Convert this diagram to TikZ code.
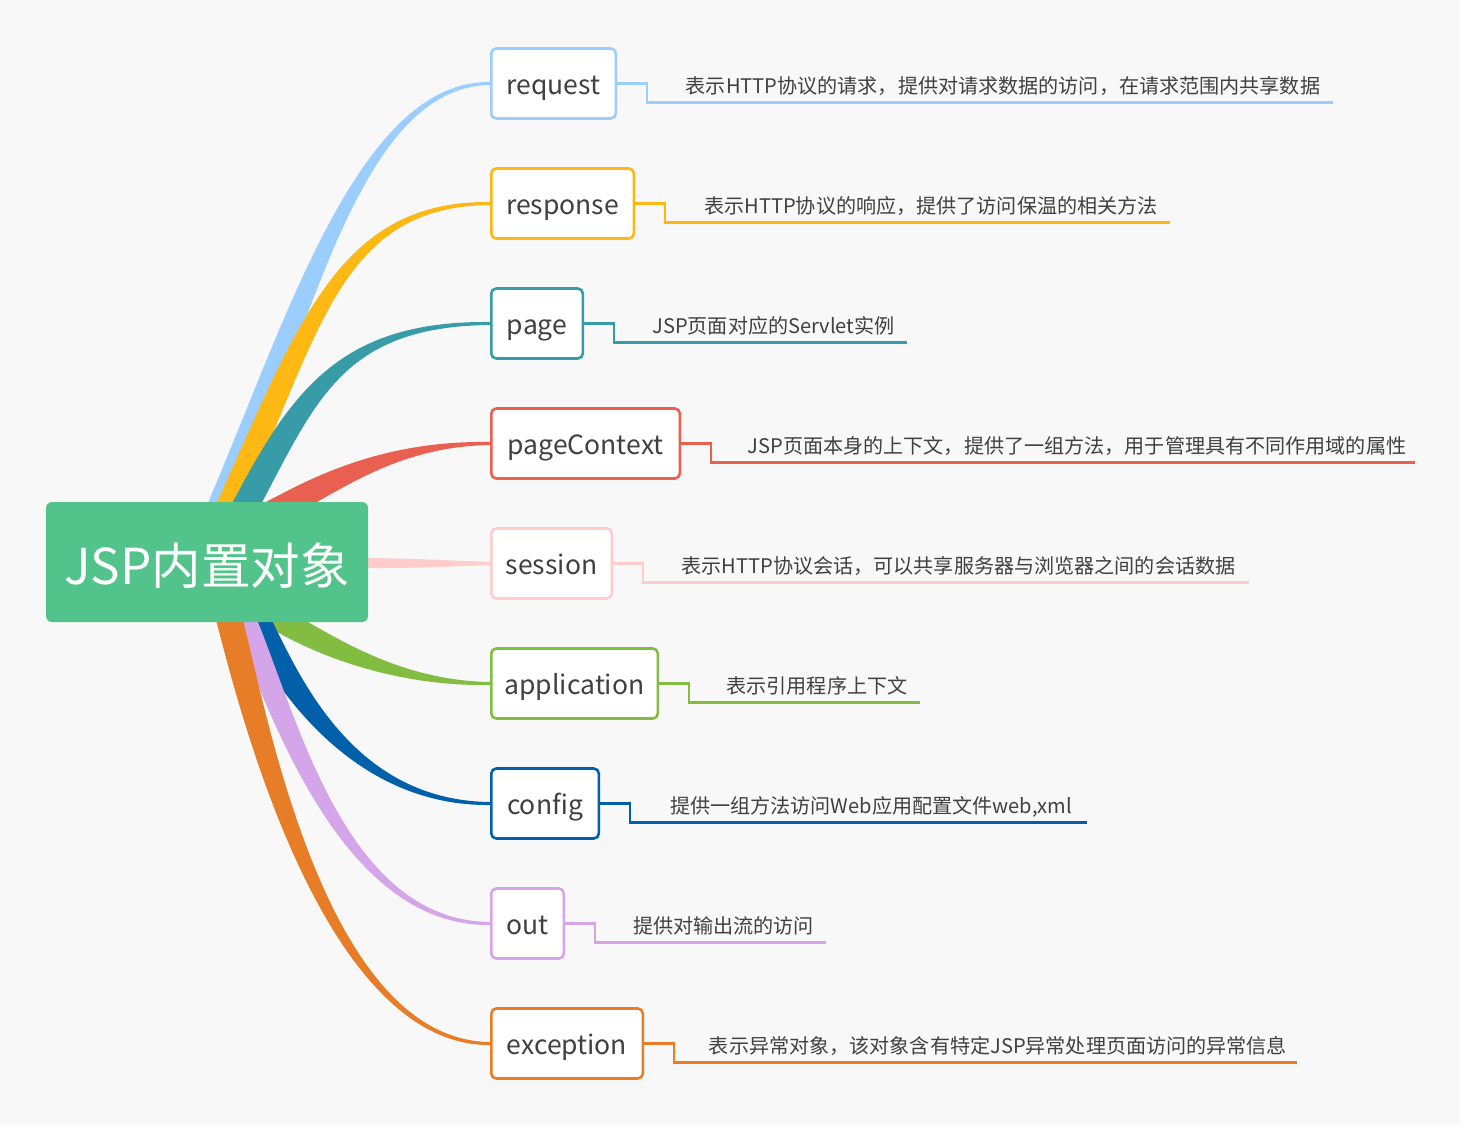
\documentclass[tikz,border=0pt]{standalone}
\usepackage{fontspec}
\setmainfont{Noto Sans CJK SC}
\usetikzlibrary{calc}
\pgfdeclarelayer{bottom}
\pgfdeclarelayer{background}
\pgfsetlayers{bottom,background,main}
\definecolor{bg}{HTML}{F8F8F8}
\definecolor{txt}{HTML}{404040}
\definecolor{cCenter}{HTML}{52C48B}
\definecolor{cReq}{HTML}{9BCDFE}
\definecolor{cResp}{HTML}{FDB813}
\definecolor{cPage}{HTML}{379CA8}
\definecolor{cCtx}{HTML}{E95F50}
\definecolor{cSess}{HTML}{FFCCCC}
\definecolor{cApp}{HTML}{82BD42}
\definecolor{cCfg}{HTML}{0260AA}
\definecolor{cOut}{HTML}{D4A5E8}
\definecolor{cExc}{HTML}{E77D27}
% tapered branch: colour, P0, P1, P2, P3, half width
\newcommand\band[6]{%
  \coordinate (#2r) at ($(#2)!-30pt!(#3)$);
  \fill[#1] ($(#2r)!#6!90:(#2)$) -- ($(#2)!#6!90:(#3)$)
    .. controls ($(#3)!#6!-90:(#2)$) and ($(#4)!3pt!90:(#5)$) .. ($(#5)!1.5pt!-90:(#4)$)
    -- ($(#5)!1.5pt!90:(#4)$)
    .. controls ($(#4)!3pt!-90:(#5)$) and ($(#3)!#6!90:(#2)$) .. ($(#2)!#6!-90:(#3)$)
    -- ($(#2r)!#6!-90:(#2)$) -- cycle;}
\begin{document}
\begin{tikzpicture}[x=1pt,y=-1pt,
  box/.style={draw, fill=white, line width=2.6pt, rounded corners=5pt,
    minimum height=70pt, inner xsep=0pt, inner ysep=0pt,
    text height=22pt, text depth=0pt,
    font=\fontsize{26.5}{28}\selectfont, text=txt, anchor=west},
  desc/.style={font=\fontsize{20.1}{23}\selectfont, text=txt, anchor=base, inner sep=0pt},
  uline/.style={line width=2.6pt},
]
\useasboundingbox (0,0) rectangle (1469,1132);
\begin{pgfonlayer}{bottom}
\fill[white] (0,0) rectangle (1469,1132);
\fill[bg] (0,0) rectangle (1460,1125);
\end{pgfonlayer}

% central topic
\node[fill=cCenter, rounded corners=6pt, minimum width=322pt, minimum height=120pt,
  inner sep=0pt, text=white, font=\fontsize{49.5}{55}\selectfont,
  text height=44pt, text depth=0pt] (c) at (207,562) {JSP内置对象};

% child topics
\node[box, draw=cReq,  minimum width=124.5pt] (req)  at (490,83.5)  {request};
\node[box, draw=cResp, minimum width=142.5pt] (resp) at (490,203.5) {response};
\node[box, draw=cPage, minimum width=91.5pt]  (page) at (490,323.5) {page};
\node[box, draw=cCtx,  minimum width=188.5pt] (ctx)  at (490,443.5) {pageContext};
\node[box, draw=cSess, minimum width=120.5pt] (sess) at (490,563.5) {session};
\node[box, draw=cApp,  minimum width=166.5pt] (app)  at (490,683.5) {application};
\node[box, draw=cCfg,  minimum width=107.5pt] (cfg)  at (490,803.5) {config};
\node[box, draw=cOut,  minimum width=72.5pt]  (out)  at (490,923.5) {out};
\node[box, draw=cExc,  minimum width=151.5pt] (exc)  at (490,1043.5) {exception};

% branches
\begin{pgfonlayer}{background}
\coordinate (a0) at (222,503); \coordinate (a1) at (300,320); \coordinate (a2) at (360,83.5);
\band{cReq}{a0}{a1}{a2}{req.west}{13pt}
\coordinate (b0) at (230,503); \coordinate (b1) at (311,322); \coordinate (b2) at (342,203.5);
\band{cResp}{b0}{b1}{b2}{resp.west}{12pt}
\coordinate (d0) at (247,503); \coordinate (d1) at (305,394); \coordinate (d2) at (343,323.5);
\band{cPage}{d0}{d1}{d2}{page.west}{13pt}
\coordinate (e0) at (290,503); \coordinate (e1) at (340,477); \coordinate (e2) at (400,443.5);
\band{cCtx}{e0}{e1}{e2}{ctx.west}{12pt}
\coordinate (f0) at (368,563); \coordinate (f1) at (410,563.3); \coordinate (f2) at (450,563.5);
\band{cSess}{f0}{f1}{f2}{sess.west}{5pt}
\coordinate (g0) at (284,622); \coordinate (g1) at (330,648); \coordinate (g2) at (400,683.5);
\band{cApp}{g0}{g1}{g2}{app.west}{12pt}
\coordinate (h0) at (257,622); \coordinate (h1) at (285,677); \coordinate (h2) at (350,803.5);
\band{cCfg}{h0}{h1}{h2}{cfg.west}{14pt}
\coordinate (k0) at (245,622); \coordinate (k1) at (288,727); \coordinate (k2) at (347,923.5);
\band{cOut}{k0}{k1}{k2}{out.west}{12pt}
\coordinate (m0) at (230,622); \coordinate (m1) at (254,714); \coordinate (m2) at (325,1043.5);
\band{cExc}{m0}{m1}{m2}{exc.west}{13pt}
\end{pgfonlayer}

% underlines and descriptions
\coordinate (reqE)  at (1333,102.5);
\coordinate (respE) at (1170,222.5);
\coordinate (pageE) at (907,342.5);
\coordinate (ctxE)  at (1415,462.5);
\coordinate (sessE) at (1249,582.5);
\coordinate (appE)  at (920,702.5);
\coordinate (cfgE)  at (1087,822.5);
\coordinate (outE)  at (826,942.5);
\coordinate (excE)  at (1297,1062.5);
\draw[uline, cReq]  (req.east)  -- ++(30,0) |- (reqE);
\draw[uline, cResp] (resp.east) -- ++(30,0) |- (respE);
\draw[uline, cPage] (page.east) -- ++(30,0) |- (pageE);
\draw[uline, cCtx]  (ctx.east)  -- ++(30,0) |- (ctxE);
\draw[uline, cSess] (sess.east) -- ++(30,0) |- (sessE);
\draw[uline, cApp]  (app.east)  -- ++(30,0) |- (appE);
\draw[uline, cCfg]  (cfg.east)  -- ++(30,0) |- (cfgE);
\draw[uline, cOut]  (out.east)  -- ++(30,0) |- (outE);
\draw[uline, cExc]  (exc.east)  -- ++(30,0) |- (excE);

\node[desc] (reqD)  at (1003,93.5)   {表示HTTP协议的请求，提供对请求数据的访问，在请求范围内共享数据};
\node[desc] (respD) at (931,213.5)   {表示HTTP协议的响应，提供了访问保温的相关方法};
\node[desc] (pageD) at (773.5,333.5) {JSP页面对应的Servlet实例};
\node[desc] (ctxD)  at (1077,453.5)  {JSP页面本身的上下文，提供了一组方法，用于管理具有不同作用域的属性};
\node[desc] (sessD) at (958.5,573.5) {表示HTTP协议会话，可以共享服务器与浏览器之间的会话数据};
\node[desc] (appD)  at (817,693.5)   {表示引用程序上下文};
\node[desc] (cfgD)  at (871,813.5)   {提供一组方法访问Web应用配置文件web,xml};
\node[desc] (outD)  at (723.5,933.5) {提供对输出流的访问};
\node[desc] (excD)  at (998,1053.5)  {表示异常对象，该对象含有特定JSP异常处理页面访问的异常信息};
\end{tikzpicture}
\end{document}
